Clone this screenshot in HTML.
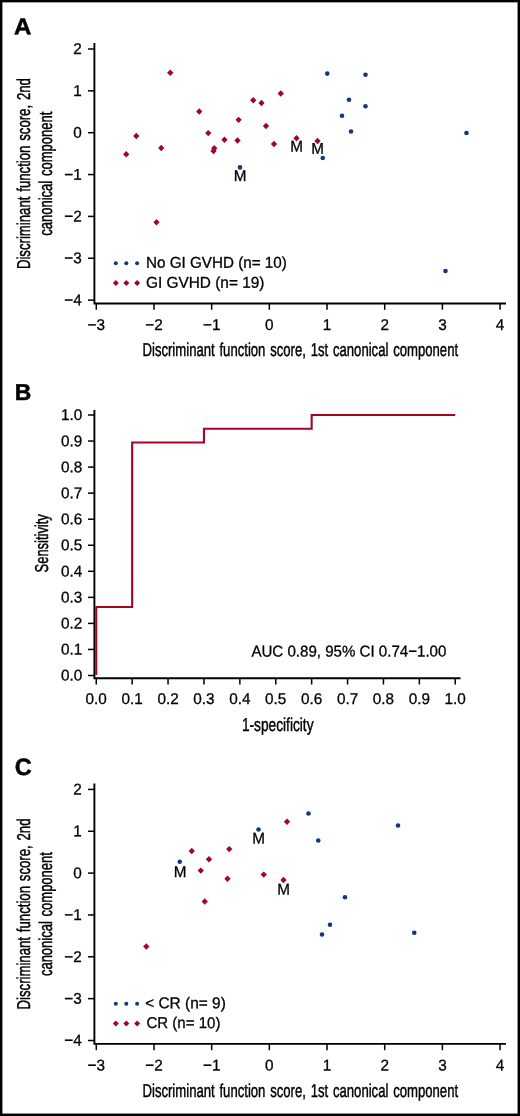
<!DOCTYPE html>
<html><head><meta charset="utf-8"><title>Figure</title>
<style>html,body{margin:0;padding:0;background:#fff}svg{display:block;will-change:transform}text{font-family:"Liberation Sans",sans-serif;fill:#000}</style>
</head><body>
<svg width="520" height="1116" viewBox="0 0 520 1116">
<rect x="0" y="0" width="520" height="1116" fill="#fff"/>
<rect x="0" y="0" width="520" height="2.35" fill="#000"/>
<rect x="0" y="0" width="2.4" height="1116" fill="#000"/>
<rect x="517.55" y="0" width="2.45" height="1116" fill="#000"/>
<rect x="0" y="1113.55" width="520" height="2.45" fill="#000"/>
<path d="M94.4 43V303.5H506" fill="none" stroke="#000" stroke-width="1.9" stroke-linejoin="miter"/>
<path d="M88 49.00H94.4" stroke="#000" stroke-width="1.5"/>
<text transform="translate(81.80 54.10) rotate(0.03) scale(0.98 1)" font-size="15.6" text-anchor="end" stroke="#000" stroke-width="0.3">2</text>
<path d="M88 90.85H94.4" stroke="#000" stroke-width="1.5"/>
<text transform="translate(81.80 95.95) rotate(0.03) scale(0.98 1)" font-size="15.6" text-anchor="end" stroke="#000" stroke-width="0.3">1</text>
<path d="M88 132.70H94.4" stroke="#000" stroke-width="1.5"/>
<text transform="translate(81.80 137.80) rotate(0.03) scale(0.98 1)" font-size="15.6" text-anchor="end" stroke="#000" stroke-width="0.3">0</text>
<path d="M88 174.55H94.4" stroke="#000" stroke-width="1.5"/>
<text transform="translate(81.80 179.65) rotate(0.03) scale(0.98 1)" font-size="15.6" text-anchor="end" stroke="#000" stroke-width="0.3">−1</text>
<path d="M88 216.40H94.4" stroke="#000" stroke-width="1.5"/>
<text transform="translate(81.80 221.50) rotate(0.03) scale(0.98 1)" font-size="15.6" text-anchor="end" stroke="#000" stroke-width="0.3">−2</text>
<path d="M88 258.25H94.4" stroke="#000" stroke-width="1.5"/>
<text transform="translate(81.80 263.35) rotate(0.03) scale(0.98 1)" font-size="15.6" text-anchor="end" stroke="#000" stroke-width="0.3">−3</text>
<path d="M88 300.10H94.4" stroke="#000" stroke-width="1.5"/>
<text transform="translate(81.80 305.20) rotate(0.03) scale(0.98 1)" font-size="15.6" text-anchor="end" stroke="#000" stroke-width="0.3">−4</text>
<path d="M96.30 303.5V309.80" stroke="#000" stroke-width="1.5"/>
<text transform="translate(96.30 330.00) rotate(0.03) scale(0.98 1)" font-size="15.6" text-anchor="middle" stroke="#000" stroke-width="0.3">−3</text>
<path d="M153.98 303.5V309.80" stroke="#000" stroke-width="1.5"/>
<text transform="translate(153.98 330.00) rotate(0.03) scale(0.98 1)" font-size="15.6" text-anchor="middle" stroke="#000" stroke-width="0.3">−2</text>
<path d="M211.66 303.5V309.80" stroke="#000" stroke-width="1.5"/>
<text transform="translate(211.66 330.00) rotate(0.03) scale(0.98 1)" font-size="15.6" text-anchor="middle" stroke="#000" stroke-width="0.3">−1</text>
<path d="M269.34 303.5V309.80" stroke="#000" stroke-width="1.5"/>
<text transform="translate(269.34 330.00) rotate(0.03) scale(0.98 1)" font-size="15.6" text-anchor="middle" stroke="#000" stroke-width="0.3">0</text>
<path d="M327.02 303.5V309.80" stroke="#000" stroke-width="1.5"/>
<text transform="translate(327.02 330.00) rotate(0.03) scale(0.98 1)" font-size="15.6" text-anchor="middle" stroke="#000" stroke-width="0.3">1</text>
<path d="M384.70 303.5V309.80" stroke="#000" stroke-width="1.5"/>
<text transform="translate(384.70 330.00) rotate(0.03) scale(0.98 1)" font-size="15.6" text-anchor="middle" stroke="#000" stroke-width="0.3">2</text>
<path d="M442.38 303.5V309.80" stroke="#000" stroke-width="1.5"/>
<text transform="translate(442.38 330.00) rotate(0.03) scale(0.98 1)" font-size="15.6" text-anchor="middle" stroke="#000" stroke-width="0.3">3</text>
<path d="M500.06 303.5V309.80" stroke="#000" stroke-width="1.5"/>
<text transform="translate(500.06 330.00) rotate(0.03) scale(0.98 1)" font-size="15.6" text-anchor="middle" stroke="#000" stroke-width="0.3">4</text>
<text transform="rotate(0.03 300.30 356.20)" x="300.30" y="356.20" font-size="18.6" text-anchor="middle" textLength="315.6" lengthAdjust="spacingAndGlyphs" stroke="#000" stroke-width="0.45" word-spacing="1.6">Discriminant function score, 1st canonical component</text>
<g transform="translate(30.4 173.6) rotate(-90)"><text transform="rotate(0.03 0.00 0.00)" x="0.00" y="0.00" font-size="18.6" text-anchor="middle" textLength="191.0" lengthAdjust="spacingAndGlyphs" stroke="#000" stroke-width="0.45" word-spacing="1.6">Discriminant function score, 2nd</text></g>
<g transform="translate(52.4 173.7) rotate(-90)"><text transform="rotate(0.03 0.00 0.00)" x="0.00" y="0.00" font-size="18.6" text-anchor="middle" textLength="124.0" lengthAdjust="spacingAndGlyphs" stroke="#000" stroke-width="0.45" word-spacing="1.6">canonical component</text></g>
<text transform="translate(13.9 34.2) rotate(0.03) scale(1.045 1)" font-size="23.0" font-weight="bold" stroke="#000" stroke-width="0.5">A</text>
<path d="M170.25 69.60L173.40 72.75L170.25 75.90L167.10 72.75Z" fill="#A40524"/>
<path d="M199.25 108.35L202.40 111.50L199.25 114.65L196.10 111.50Z" fill="#A40524"/>
<path d="M208.25 129.95L211.40 133.10L208.25 136.25L205.10 133.10Z" fill="#A40524"/>
<path d="M136.25 132.85L139.40 136.00L136.25 139.15L133.10 136.00Z" fill="#A40524"/>
<path d="M126.25 151.10L129.40 154.25L126.25 157.40L123.10 154.25Z" fill="#A40524"/>
<path d="M161.25 144.85L164.40 148.00L161.25 151.15L158.10 148.00Z" fill="#A40524"/>
<path d="M224.50 136.60L227.65 139.75L224.50 142.90L221.35 139.75Z" fill="#A40524"/>
<path d="M214.25 145.10L217.40 148.25L214.25 151.40L211.10 148.25Z" fill="#A40524"/>
<path d="M213.50 147.85L216.65 151.00L213.50 154.15L210.35 151.00Z" fill="#A40524"/>
<path d="M156.50 219.10L159.65 222.25L156.50 225.40L153.35 222.25Z" fill="#A40524"/>
<path d="M280.75 90.35L283.90 93.50L280.75 96.65L277.60 93.50Z" fill="#A40524"/>
<path d="M253.25 97.10L256.40 100.25L253.25 103.40L250.10 100.25Z" fill="#A40524"/>
<path d="M261.50 99.85L264.65 103.00L261.50 106.15L258.35 103.00Z" fill="#A40524"/>
<path d="M238.60 116.65L241.75 119.80L238.60 122.95L235.45 119.80Z" fill="#A40524"/>
<path d="M266.00 122.85L269.15 126.00L266.00 129.15L262.85 126.00Z" fill="#A40524"/>
<path d="M237.50 137.35L240.65 140.50L237.50 143.65L234.35 140.50Z" fill="#A40524"/>
<path d="M274.00 140.85L277.15 144.00L274.00 147.15L270.85 144.00Z" fill="#A40524"/>
<path d="M296.50 135.10L299.65 138.25L296.50 141.40L293.35 138.25Z" fill="#A40524"/>
<path d="M317.50 137.85L320.65 141.00L317.50 144.15L314.35 141.00Z" fill="#A40524"/>
<circle cx="327.25" cy="73.60" r="2.3" fill="#17367A"/>
<circle cx="365.50" cy="74.70" r="2.3" fill="#17367A"/>
<circle cx="349.00" cy="99.70" r="2.3" fill="#17367A"/>
<circle cx="365.50" cy="106.20" r="2.3" fill="#17367A"/>
<circle cx="342.00" cy="115.70" r="2.3" fill="#17367A"/>
<circle cx="351.00" cy="131.45" r="2.3" fill="#17367A"/>
<circle cx="466.50" cy="132.95" r="2.3" fill="#17367A"/>
<circle cx="322.75" cy="157.95" r="2.3" fill="#17367A"/>
<circle cx="240.00" cy="167.40" r="2.3" fill="#17367A"/>
<circle cx="445.50" cy="271.00" r="2.3" fill="#17367A"/>
<text transform="translate(296.50 151.60) rotate(0.03) scale(0.98 1)" font-size="15.6" text-anchor="middle" stroke="#000" stroke-width="0.3">M</text>
<text transform="translate(317.50 153.80) rotate(0.03) scale(0.98 1)" font-size="15.6" text-anchor="middle" stroke="#000" stroke-width="0.3">M</text>
<text transform="translate(240.00 181.10) rotate(0.03) scale(0.98 1)" font-size="15.6" text-anchor="middle" stroke="#000" stroke-width="0.3">M</text>
<circle cx="115.80" cy="263.30" r="2.0" fill="#17367A"/>
<path d="M115.80 280.10L118.80 283.10L115.80 286.10L112.80 283.10Z" fill="#A40524"/>
<circle cx="126.30" cy="263.30" r="2.0" fill="#17367A"/>
<path d="M126.30 280.10L129.30 283.10L126.30 286.10L123.30 283.10Z" fill="#A40524"/>
<circle cx="137.10" cy="263.30" r="2.0" fill="#17367A"/>
<path d="M137.10 280.10L140.10 283.10L137.10 286.10L134.10 283.10Z" fill="#A40524"/>
<text transform="rotate(0.03 146.00 267.80)" x="146.00" y="267.80" font-size="15.6" text-anchor="start" textLength="140.8" lengthAdjust="spacingAndGlyphs" stroke="#000" stroke-width="0.3">No GI GVHD (n= 10)</text>
<text transform="rotate(0.03 146.00 287.70)" x="146.00" y="287.70" font-size="15.6" text-anchor="start" textLength="118.4" lengthAdjust="spacingAndGlyphs" stroke="#000" stroke-width="0.3">GI GVHD (n= 19)</text>
<path d="M94.4 783.4V1043.9H506" fill="none" stroke="#000" stroke-width="1.9" stroke-linejoin="miter"/>
<path d="M88 789.40H94.4" stroke="#000" stroke-width="1.5"/>
<text transform="translate(81.80 794.50) rotate(0.03) scale(0.98 1)" font-size="15.6" text-anchor="end" stroke="#000" stroke-width="0.3">2</text>
<path d="M88 831.25H94.4" stroke="#000" stroke-width="1.5"/>
<text transform="translate(81.80 836.35) rotate(0.03) scale(0.98 1)" font-size="15.6" text-anchor="end" stroke="#000" stroke-width="0.3">1</text>
<path d="M88 873.10H94.4" stroke="#000" stroke-width="1.5"/>
<text transform="translate(81.80 878.20) rotate(0.03) scale(0.98 1)" font-size="15.6" text-anchor="end" stroke="#000" stroke-width="0.3">0</text>
<path d="M88 914.95H94.4" stroke="#000" stroke-width="1.5"/>
<text transform="translate(81.80 920.05) rotate(0.03) scale(0.98 1)" font-size="15.6" text-anchor="end" stroke="#000" stroke-width="0.3">−1</text>
<path d="M88 956.80H94.4" stroke="#000" stroke-width="1.5"/>
<text transform="translate(81.80 961.90) rotate(0.03) scale(0.98 1)" font-size="15.6" text-anchor="end" stroke="#000" stroke-width="0.3">−2</text>
<path d="M88 998.65H94.4" stroke="#000" stroke-width="1.5"/>
<text transform="translate(81.80 1003.75) rotate(0.03) scale(0.98 1)" font-size="15.6" text-anchor="end" stroke="#000" stroke-width="0.3">−3</text>
<path d="M88 1040.50H94.4" stroke="#000" stroke-width="1.5"/>
<text transform="translate(81.80 1045.60) rotate(0.03) scale(0.98 1)" font-size="15.6" text-anchor="end" stroke="#000" stroke-width="0.3">−4</text>
<path d="M96.30 1043.9V1050.20" stroke="#000" stroke-width="1.5"/>
<text transform="translate(96.30 1070.40) rotate(0.03) scale(0.98 1)" font-size="15.6" text-anchor="middle" stroke="#000" stroke-width="0.3">−3</text>
<path d="M153.98 1043.9V1050.20" stroke="#000" stroke-width="1.5"/>
<text transform="translate(153.98 1070.40) rotate(0.03) scale(0.98 1)" font-size="15.6" text-anchor="middle" stroke="#000" stroke-width="0.3">−2</text>
<path d="M211.66 1043.9V1050.20" stroke="#000" stroke-width="1.5"/>
<text transform="translate(211.66 1070.40) rotate(0.03) scale(0.98 1)" font-size="15.6" text-anchor="middle" stroke="#000" stroke-width="0.3">−1</text>
<path d="M269.34 1043.9V1050.20" stroke="#000" stroke-width="1.5"/>
<text transform="translate(269.34 1070.40) rotate(0.03) scale(0.98 1)" font-size="15.6" text-anchor="middle" stroke="#000" stroke-width="0.3">0</text>
<path d="M327.02 1043.9V1050.20" stroke="#000" stroke-width="1.5"/>
<text transform="translate(327.02 1070.40) rotate(0.03) scale(0.98 1)" font-size="15.6" text-anchor="middle" stroke="#000" stroke-width="0.3">1</text>
<path d="M384.70 1043.9V1050.20" stroke="#000" stroke-width="1.5"/>
<text transform="translate(384.70 1070.40) rotate(0.03) scale(0.98 1)" font-size="15.6" text-anchor="middle" stroke="#000" stroke-width="0.3">2</text>
<path d="M442.38 1043.9V1050.20" stroke="#000" stroke-width="1.5"/>
<text transform="translate(442.38 1070.40) rotate(0.03) scale(0.98 1)" font-size="15.6" text-anchor="middle" stroke="#000" stroke-width="0.3">3</text>
<path d="M500.06 1043.9V1050.20" stroke="#000" stroke-width="1.5"/>
<text transform="translate(500.06 1070.40) rotate(0.03) scale(0.98 1)" font-size="15.6" text-anchor="middle" stroke="#000" stroke-width="0.3">4</text>
<text transform="rotate(0.03 300.30 1096.60)" x="300.30" y="1096.60" font-size="18.6" text-anchor="middle" textLength="315.6" lengthAdjust="spacingAndGlyphs" stroke="#000" stroke-width="0.45" word-spacing="1.6">Discriminant function score, 1st canonical component</text>
<g transform="translate(30.4 914.0) rotate(-90)"><text transform="rotate(0.03 0.00 0.00)" x="0.00" y="0.00" font-size="18.6" text-anchor="middle" textLength="191.0" lengthAdjust="spacingAndGlyphs" stroke="#000" stroke-width="0.45" word-spacing="1.6">Discriminant function score, 2nd</text></g>
<g transform="translate(52.4 914.1) rotate(-90)"><text transform="rotate(0.03 0.00 0.00)" x="0.00" y="0.00" font-size="18.6" text-anchor="middle" textLength="124.0" lengthAdjust="spacingAndGlyphs" stroke="#000" stroke-width="0.45" word-spacing="1.6">canonical component</text></g>
<text transform="translate(14.8 774.9) rotate(0.03) scale(1.0 1)" font-size="23.5" font-weight="bold" stroke="#000" stroke-width="0.5">C</text>
<path d="M191.75 847.85L194.90 851.00L191.75 854.15L188.60 851.00Z" fill="#A40524"/>
<path d="M229.25 845.95L232.40 849.10L229.25 852.25L226.10 849.10Z" fill="#A40524"/>
<path d="M209.00 856.10L212.15 859.25L209.00 862.40L205.85 859.25Z" fill="#A40524"/>
<path d="M200.75 867.45L203.90 870.60L200.75 873.75L197.60 870.60Z" fill="#A40524"/>
<path d="M227.50 875.60L230.65 878.75L227.50 881.90L224.35 878.75Z" fill="#A40524"/>
<path d="M204.75 898.35L207.90 901.50L204.75 904.65L201.60 901.50Z" fill="#A40524"/>
<path d="M146.25 943.35L149.40 946.50L146.25 949.65L143.10 946.50Z" fill="#A40524"/>
<path d="M287.00 818.60L290.15 821.75L287.00 824.90L283.85 821.75Z" fill="#A40524"/>
<path d="M263.75 871.45L266.90 874.60L263.75 877.75L260.60 874.60Z" fill="#A40524"/>
<path d="M283.50 876.85L286.65 880.00L283.50 883.15L280.35 880.00Z" fill="#A40524"/>
<circle cx="179.75" cy="861.70" r="2.3" fill="#17367A"/>
<circle cx="258.50" cy="829.45" r="2.3" fill="#17367A"/>
<circle cx="308.50" cy="813.45" r="2.3" fill="#17367A"/>
<circle cx="318.25" cy="840.45" r="2.3" fill="#17367A"/>
<circle cx="398.00" cy="825.45" r="2.3" fill="#17367A"/>
<circle cx="345.00" cy="897.20" r="2.3" fill="#17367A"/>
<circle cx="330.00" cy="924.70" r="2.3" fill="#17367A"/>
<circle cx="322.00" cy="934.45" r="2.3" fill="#17367A"/>
<circle cx="414.25" cy="932.70" r="2.3" fill="#17367A"/>
<text transform="translate(180.00 877.10) rotate(0.03) scale(0.98 1)" font-size="15.6" text-anchor="middle" stroke="#000" stroke-width="0.3">M</text>
<text transform="translate(258.50 843.60) rotate(0.03) scale(0.98 1)" font-size="15.6" text-anchor="middle" stroke="#000" stroke-width="0.3">M</text>
<text transform="translate(283.50 894.60) rotate(0.03) scale(0.98 1)" font-size="15.6" text-anchor="middle" stroke="#000" stroke-width="0.3">M</text>
<circle cx="115.80" cy="1003.70" r="2.0" fill="#17367A"/>
<path d="M115.80 1020.50L118.80 1023.50L115.80 1026.50L112.80 1023.50Z" fill="#A40524"/>
<circle cx="126.30" cy="1003.70" r="2.0" fill="#17367A"/>
<path d="M126.30 1020.50L129.30 1023.50L126.30 1026.50L123.30 1023.50Z" fill="#A40524"/>
<circle cx="137.10" cy="1003.70" r="2.0" fill="#17367A"/>
<path d="M137.10 1020.50L140.10 1023.50L137.10 1026.50L134.10 1023.50Z" fill="#A40524"/>
<text transform="rotate(0.03 145.20 1008.20)" x="145.20" y="1008.20" font-size="15.6" text-anchor="start" textLength="80.6" lengthAdjust="spacingAndGlyphs" stroke="#000" stroke-width="0.3">&lt; CR (n= 9)</text>
<text transform="rotate(0.03 146.40 1028.10)" x="146.40" y="1028.10" font-size="15.6" text-anchor="start" textLength="74.0" lengthAdjust="spacingAndGlyphs" stroke="#000" stroke-width="0.3">CR (n= 10)</text>
<path d="M94.4 410V678.2H460.5" fill="none" stroke="#000" stroke-width="1.9"/>
<path d="M88 415.00H94.4" stroke="#000" stroke-width="1.5"/>
<text transform="translate(82.30 420.10) rotate(0.03) scale(0.98 1)" font-size="15.6" text-anchor="end" stroke="#000" stroke-width="0.3">1.0</text>
<path d="M96.25 678.2V684.50" stroke="#000" stroke-width="1.5"/>
<text transform="translate(96.25 704.00) rotate(0.03) scale(0.98 1)" font-size="15.6" text-anchor="middle" stroke="#000" stroke-width="0.3">0.0</text>
<path d="M88 441.05H94.4" stroke="#000" stroke-width="1.5"/>
<text transform="translate(82.30 446.15) rotate(0.03) scale(0.98 1)" font-size="15.6" text-anchor="end" stroke="#000" stroke-width="0.3">0.9</text>
<path d="M132.15 678.2V684.50" stroke="#000" stroke-width="1.5"/>
<text transform="translate(132.15 704.00) rotate(0.03) scale(0.98 1)" font-size="15.6" text-anchor="middle" stroke="#000" stroke-width="0.3">0.1</text>
<path d="M88 467.10H94.4" stroke="#000" stroke-width="1.5"/>
<text transform="translate(82.30 472.20) rotate(0.03) scale(0.98 1)" font-size="15.6" text-anchor="end" stroke="#000" stroke-width="0.3">0.8</text>
<path d="M168.05 678.2V684.50" stroke="#000" stroke-width="1.5"/>
<text transform="translate(168.05 704.00) rotate(0.03) scale(0.98 1)" font-size="15.6" text-anchor="middle" stroke="#000" stroke-width="0.3">0.2</text>
<path d="M88 493.15H94.4" stroke="#000" stroke-width="1.5"/>
<text transform="translate(82.30 498.25) rotate(0.03) scale(0.98 1)" font-size="15.6" text-anchor="end" stroke="#000" stroke-width="0.3">0.7</text>
<path d="M203.95 678.2V684.50" stroke="#000" stroke-width="1.5"/>
<text transform="translate(203.95 704.00) rotate(0.03) scale(0.98 1)" font-size="15.6" text-anchor="middle" stroke="#000" stroke-width="0.3">0.3</text>
<path d="M88 519.20H94.4" stroke="#000" stroke-width="1.5"/>
<text transform="translate(82.30 524.30) rotate(0.03) scale(0.98 1)" font-size="15.6" text-anchor="end" stroke="#000" stroke-width="0.3">0.6</text>
<path d="M239.85 678.2V684.50" stroke="#000" stroke-width="1.5"/>
<text transform="translate(239.85 704.00) rotate(0.03) scale(0.98 1)" font-size="15.6" text-anchor="middle" stroke="#000" stroke-width="0.3">0.4</text>
<path d="M88 545.25H94.4" stroke="#000" stroke-width="1.5"/>
<text transform="translate(82.30 550.35) rotate(0.03) scale(0.98 1)" font-size="15.6" text-anchor="end" stroke="#000" stroke-width="0.3">0.5</text>
<path d="M275.75 678.2V684.50" stroke="#000" stroke-width="1.5"/>
<text transform="translate(275.75 704.00) rotate(0.03) scale(0.98 1)" font-size="15.6" text-anchor="middle" stroke="#000" stroke-width="0.3">0.5</text>
<path d="M88 571.30H94.4" stroke="#000" stroke-width="1.5"/>
<text transform="translate(82.30 576.40) rotate(0.03) scale(0.98 1)" font-size="15.6" text-anchor="end" stroke="#000" stroke-width="0.3">0.4</text>
<path d="M311.65 678.2V684.50" stroke="#000" stroke-width="1.5"/>
<text transform="translate(311.65 704.00) rotate(0.03) scale(0.98 1)" font-size="15.6" text-anchor="middle" stroke="#000" stroke-width="0.3">0.6</text>
<path d="M88 597.35H94.4" stroke="#000" stroke-width="1.5"/>
<text transform="translate(82.30 602.45) rotate(0.03) scale(0.98 1)" font-size="15.6" text-anchor="end" stroke="#000" stroke-width="0.3">0.3</text>
<path d="M347.55 678.2V684.50" stroke="#000" stroke-width="1.5"/>
<text transform="translate(347.55 704.00) rotate(0.03) scale(0.98 1)" font-size="15.6" text-anchor="middle" stroke="#000" stroke-width="0.3">0.7</text>
<path d="M88 623.40H94.4" stroke="#000" stroke-width="1.5"/>
<text transform="translate(82.30 628.50) rotate(0.03) scale(0.98 1)" font-size="15.6" text-anchor="end" stroke="#000" stroke-width="0.3">0.2</text>
<path d="M383.45 678.2V684.50" stroke="#000" stroke-width="1.5"/>
<text transform="translate(383.45 704.00) rotate(0.03) scale(0.98 1)" font-size="15.6" text-anchor="middle" stroke="#000" stroke-width="0.3">0.8</text>
<path d="M88 649.45H94.4" stroke="#000" stroke-width="1.5"/>
<text transform="translate(82.30 654.55) rotate(0.03) scale(0.98 1)" font-size="15.6" text-anchor="end" stroke="#000" stroke-width="0.3">0.1</text>
<path d="M419.35 678.2V684.50" stroke="#000" stroke-width="1.5"/>
<text transform="translate(419.35 704.00) rotate(0.03) scale(0.98 1)" font-size="15.6" text-anchor="middle" stroke="#000" stroke-width="0.3">0.9</text>
<path d="M88 675.50H94.4" stroke="#000" stroke-width="1.5"/>
<text transform="translate(82.30 680.60) rotate(0.03) scale(0.98 1)" font-size="15.6" text-anchor="end" stroke="#000" stroke-width="0.3">0.0</text>
<path d="M455.25 678.2V684.50" stroke="#000" stroke-width="1.5"/>
<text transform="translate(455.25 704.00) rotate(0.03) scale(0.98 1)" font-size="15.6" text-anchor="middle" stroke="#000" stroke-width="0.3">1.0</text>
<path d="M96.25 675.00L96.25 606.99L132.15 606.99L132.15 442.43L203.95 442.43L203.95 428.70L311.65 428.70L311.65 415.00L455.25 415.00" fill="none" stroke="#A40524" stroke-width="2.1" stroke-linejoin="miter"/>
<text transform="rotate(0.03 251.40 656.50)" x="251.40" y="656.50" font-size="15.6" text-anchor="start" textLength="195.0" lengthAdjust="spacingAndGlyphs" stroke="#000" stroke-width="0.3">AUC 0.89, 95% CI 0.74−1.00</text>
<text transform="rotate(0.03 277.70 731.20)" x="277.70" y="731.20" font-size="18.6" text-anchor="middle" textLength="71.6" lengthAdjust="spacingAndGlyphs" stroke="#000" stroke-width="0.45" word-spacing="1.6">1-specificity</text>
<g transform="translate(48.3 543.3) rotate(-90)"><text transform="rotate(0.03 0.00 0.00)" x="0.00" y="0.00" font-size="18.6" text-anchor="middle" textLength="58.2" lengthAdjust="spacingAndGlyphs" stroke="#000" stroke-width="0.45" word-spacing="1.6">Sensitivity</text></g>
<text transform="translate(14.7 400.1) rotate(0.03) scale(1.0 1)" font-size="22.9" font-weight="bold" stroke="#000" stroke-width="0.5">B</text>
</svg></body></html>
